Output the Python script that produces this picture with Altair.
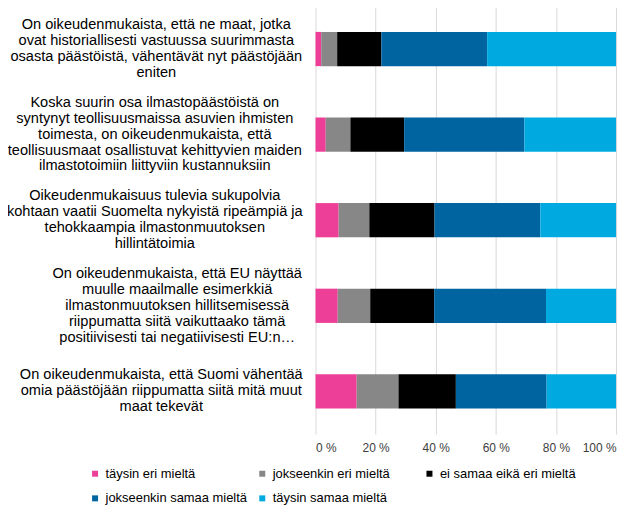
import altair as alt
import pandas as pd

statements = [
    "On oikeudenmukaista, että ne maat, jotka\novat historiallisesti vastuussa suurimmasta\nosasta päästöistä, vähentävät nyt päästöjään\neniten",
    "Koska suurin osa ilmastopäästöistä on\nsyntynyt teollisuusmaissa asuvien ihmisten\ntoimesta, on oikeudenmukaista, että\nteollisuusmaat osallistuvat kehittyvien maiden\nilmastotoimiin liittyviin kustannuksiin",
    "Oikeudenmukaisuus tulevia sukupolvia\nkohtaan vaatii Suomelta nykyistä ripeämpiä ja\ntehokkaampia ilmastonmuutoksen\nhillintätoimia",
    "On oikeudenmukaista, että EU näyttää\nmuulle maailmalle esimerkkiä\nilmastonmuutoksen hillitsemisessä\nriippumatta siitä vaikuttaako tämä\npositiivisesti tai negatiivisesti EU:n…",
    "On oikeudenmukaista, että Suomi vähentää\nomia päästöjään riippumatta siitä mitä muut\nmaat tekevät",
]

responses = [
    "täysin eri mieltä",
    "jokseenkin eri mieltä",
    "ei samaa eikä eri mieltä",
    "jokseenkin samaa mieltä",
    "täysin samaa mieltä",
]

taysin_eri = [1.9, 3.4, 7.7, 7.4, 13.7]
jokseenkin_eri = [5.3, 8.2, 10.2, 10.8, 13.9]
ei_samaa_eika_eri = [14.7, 17.9, 21.7, 21.3, 19.1]
jokseenkin_samaa = [35.2, 40.0, 35.2, 37.2, 30.2]
taysin_samaa = [42.9, 30.5, 25.2, 23.3, 23.1]

colors = ["#EE3F98", "#878787", "#000000", "#0064A0", "#00AAE1"]

series = [taysin_eri, jokseenkin_eri, ei_samaa_eika_eri, jokseenkin_samaa, taysin_samaa]
rows = []
for ri, (resp, vals) in enumerate(zip(responses, series)):
    for s, v in zip(statements, vals):
        rows.append({"statement": s, "response": resp, "order": ri, "value": v})
df = pd.DataFrame(rows)

FONT = "Liberation Sans"

chart = alt.Chart(df).mark_bar().encode(
    x=alt.X(
        "value:Q",
        stack="zero",
        scale=alt.Scale(domain=[0, 100], nice=False),
        axis=alt.Axis(
            title=None,
            values=[0, 20, 40, 60, 80, 100],
            labelExpr="datum.value + ' %'",
            grid=True,
            gridColor="#D9D9D9",
            gridWidth=1,
            ticks=False,
            domain=False,
            labelPadding=8,
            labelFont=FONT,
            labelFontSize=12,
            labelColor="#404040",
        ),
    ),
    y=alt.Y(
        "statement:N",
        sort=statements,
        scale=alt.Scale(paddingInner=0.6, paddingOuter=0.3),
        axis=alt.Axis(
            title=None,
            ticks=False,
            domain=False,
            labelExpr="split(datum.label, '\\n')",
            labelAlign="center",
            labelBaseline="middle",
            labelLineHeight=16,
            labelFont=FONT,
            labelFontSize=14.67,
            labelColor="#000000",
            labelLimit=0,
            labelPadding={
                "condition": [
                    {"test": "indexof(datum.value, 'EU näyttää') >= 0", "value": 139.5},
                    {"test": "indexof(datum.value, 'Suomi vähentää') >= 0", "value": 155.5},
                    {"test": "indexof(datum.value, 'ne maat') >= 0", "value": 160.5},
                ],
                "value": 162,
            },
            labelOffset={
                "condition": [
                    {"test": "indexof(datum.value, 'Koska') >= 0", "value": -32},
                    {"test": "indexof(datum.value, 'EU näyttää') >= 0", "value": -32},
                    {"test": "indexof(datum.value, 'Suomi vähentää') >= 0", "value": -16},
                ],
                "value": -24,
            },
        ),
    ),
    color=alt.Color(
        "response:N",
        sort=responses,
        scale=alt.Scale(domain=responses, range=colors),
        legend=alt.Legend(
            title=None,
            orient="none",
            legendX=-228,
            legendY=463,
            direction="horizontal",
            columns=3,
            gridAlign="all",
            columnPadding=8,
            rowPadding=11,
            padding=0,
            symbolType="square",
            symbolSize=36,
            symbolStrokeWidth=0,
            labelOffset=4,
            labelFont=FONT,
            labelFontSize=13,
            labelColor="#000000",
            labelLimit=0,
        ),
    ),
    order=alt.Order("order:Q"),
).properties(
    width=302,
    height=430,
    padding={"left": 309, "top": -3, "right": 12, "bottom": 80},
    autosize=alt.AutoSizeParams(type="none"),
).configure_view(stroke=None)

chart.save("out.html", embed_options={"renderer": "svg", "actions": False})
